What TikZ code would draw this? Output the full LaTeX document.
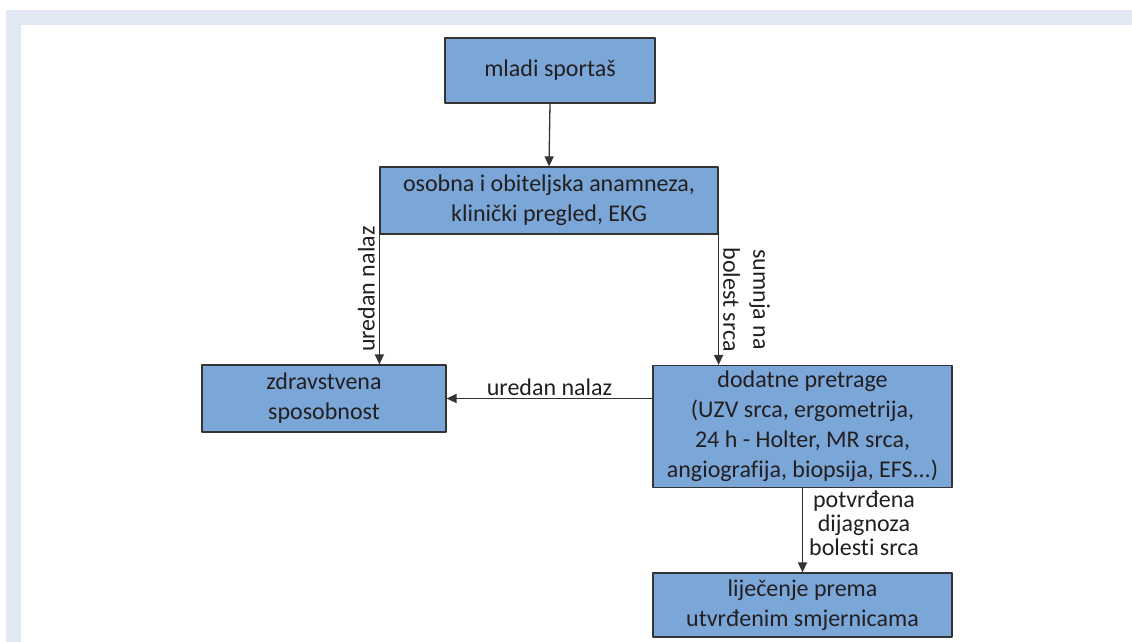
\documentclass[tikz,border=0pt]{standalone}
\usepackage{fontspec}
\setmainfont[Ligatures=NoCommon]{Carlito}
\usepackage{xcolor}
\usetikzlibrary{arrows.meta}
\definecolor{boxblue}{RGB}{123,166,216}
\definecolor{boxline}{RGB}{51,51,51}
\definecolor{framecol}{RGB}{225,232,244}
\definecolor{textgray}{RGB}{35,31,32}

\begin{document}
\begin{tikzpicture}
			[line cap=round,line join=round,>={Triangle[length=10pt,width=9pt]},x=1pt,y=-1pt,
			box/.style={draw=boxline,fill=boxblue,line width=1.2pt,align=center,inner sep=0pt,text=textgray},
			lbl/.style={align=center,text=textgray,inner sep=4pt},
			conn/.style={->,draw=boxline,line width=1.3pt},
			font=\fontsize{24}{30}\selectfont]
			\useasboundingbox (0,0) rectangle (1132,642);
			\fill [white] (0,0) rectangle (1132,642);
			\fill [framecol] (6,10) rectangle (1132,642);
			\fill [white] (21,25) rectangle (1132,642);
			\node [box,minimum width=210,minimum height=65] (sportas) at (550,70.5) {mladi sportaš};
			\node [box,minimum width=338,minimum height=67] (anamneza) at (549,200.5) {osobna i obiteljska anamneza,\\klinički pregled, EKG};
			\node [box,minimum width=244,minimum height=67] (sposobnost) at (324,398.5) {zdravstvena\\sposobnost};
			\node [box,minimum width=299,minimum height=122] (pretrage) at (802.5,426.5) {dodatne pretrage\\(UZV srca, ergometrija,\\24 h - Holter, MR srca,\\angiografija, biopsija, EFS...)};
			\node [box,minimum width=299,minimum height=64] (lijecenje) at (802.5,605) {liječenje prema\\utvrđenim smjernicama};
			\draw [conn] (sportas.south) -- (anamneza.north);
			\draw [conn] (anamneza.south west) -- (anamneza.south west |- sposobnost.north) node [lbl,pos=0.42,above,rotate=90] {uredan nalaz};
			\draw [conn] (anamneza.south east) -- (anamneza.south east |- pretrage.north) node [lbl,pos=0.5,above,rotate=-90] {sumnja na\\bolest srca};
			\draw [conn] (pretrage.west |- sposobnost.east) -- (sposobnost.east) node [lbl,midway,above,inner sep=2pt] {uredan nalaz};
			\draw [conn] (pretrage.south) -- (lijecenje.north) node [lbl,pos=0.42,right,inner sep=6pt,font=\fontsize{24}{24}\selectfont] {potvrđena\\dijagnoza\\bolesti srca};
		\end{tikzpicture}
\end{document}
